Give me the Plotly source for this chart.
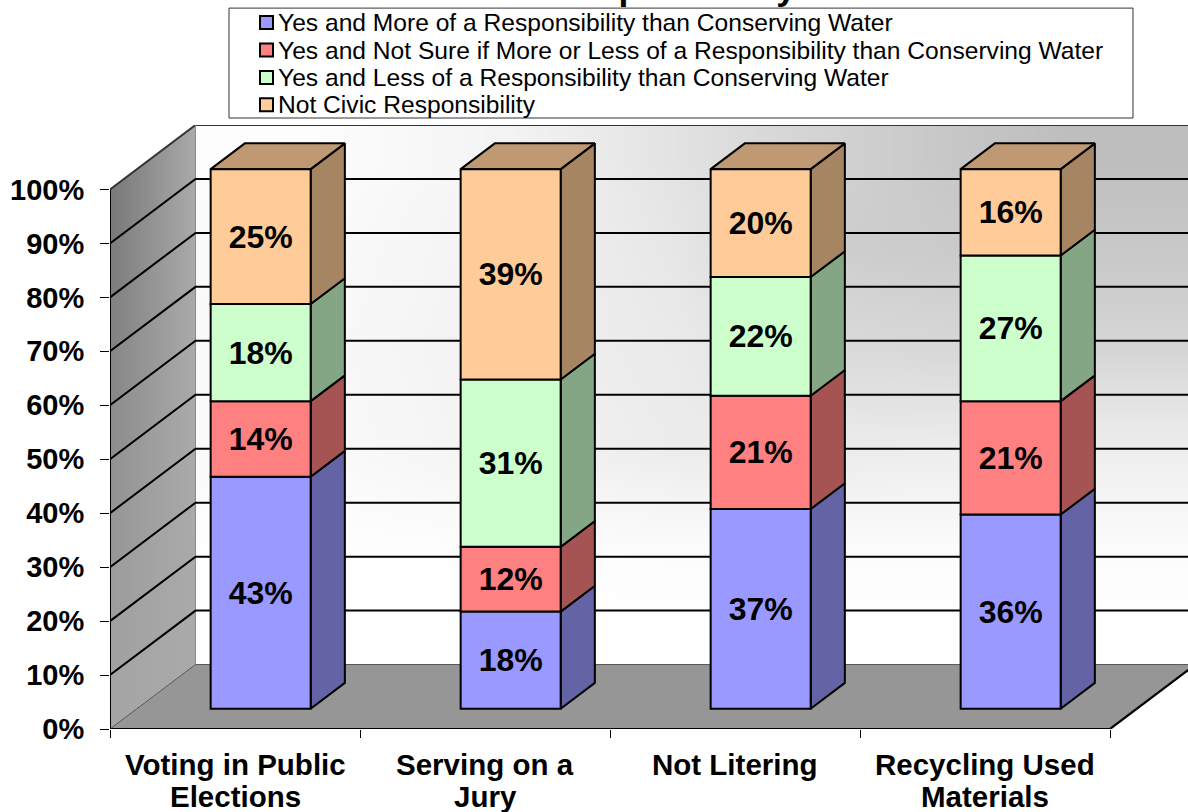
import plotly.graph_objects as go

CATEGORIES = ["Voting in Public Elections", "Serving on a Jury", "Not Litering", "Recycling Used Materials"]
CATEGORY_LINES = [["Voting in Public", "Elections"], ["Serving on a", "Jury"], ["Not Litering"], ["Recycling Used", "Materials"]]
SERIES_NAMES = [
    "Yes and More of a Responsibility than Conserving Water",
    "Yes and Not Sure if More or Less of a Responsibility than Conserving Water",
    "Yes and Less of a Responsibility than Conserving Water",
    "Not Civic Responsibility",
]
MORE = [43, 18, 37, 36]
NOT_SURE = [14, 12, 21, 21]
LESS = [18, 31, 22, 27]
NOT_CIVIC = [25, 39, 20, 16]
SERIES_VALUES = [MORE, NOT_SURE, LESS, NOT_CIVIC]
SERIES_COLORS = [(153, 153, 255), (255, 128, 128), (204, 255, 204), (255, 204, 153)]
TITLE = "Civic Responsibility"

# page geometry
W, H = 1188, 812
L, R, T, B = 110, 0, 125, 82.5
PW, PH = W - L - R, H - T - B
X_UNIT, Y_UNIT = 250.0, 5.40      # px per category, px per percent
X0 = -0.5
DEPTH_X, DEPTH_Y = 85.5 / X_UNIT, 64.5 / Y_UNIT
BAR_WIDTH = 0.4
BAR_FRONT_X = 0.30   # where the bar front sits inside the chart depth
BAR_FRONT_Y = 0.315
BAR_DEPTH = 0.40     # how deep a bar is
XR = [X0, X0 + PW / X_UNIT]
YR = [0, PH / Y_UNIT]
TICKS = list(range(0, 101, 10))
FONT = "Liberation Sans, Arial, sans-serif"


def rgb(c, k=1.0):
    return "rgb(%d,%d,%d)" % tuple(round(v * k) for v in c)


def px_x(x):
    return (x - L) / PW


def px_y(y):
    return (H - B - y) / PH


def unit_x(px):
    return X0 + (px - L) / X_UNIT


def unit_y(py):
    return (H - B - py) / Y_UNIT


fig = go.Figure()

# back wall shading: white at the bottom left, grey at the top right
WALL_EDGES_X = [196, 420, 600, 760, 950, 1188]
WALL_EDGES_Y = [664, 600, 500, 400, 300, 200, 125]
WALL_GREYS = [
    [255, 255, 255, 255, 255],
    [254, 253, 252, 252, 252],
    [250, 242, 236, 236, 238],
    [249, 240, 234, 218, 214],
    [250, 242, 230, 205, 200],
    [253, 243, 226, 208, 190],
]
fig.add_trace(go.Heatmap(
    x=[unit_x(v) for v in WALL_EDGES_X], y=[unit_y(v) for v in WALL_EDGES_Y], z=WALL_GREYS,
    zsmooth="best", zmin=0, zmax=255, showscale=False, hoverinfo="skip",
    colorscale=[[0, "#000000"], [1, "#ffffff"]],
))

# left wall, one gradient band per gridline interval
left_dark = [164, 160, 156, 150, 146, 140, 134, 128, 124, 120]
for i, lo in enumerate(TICKS[:-1]):
    hi = TICKS[i + 1]
    fig.add_trace(go.Scatter(
        x=[X0, X0 + DEPTH_X, X0 + DEPTH_X, X0],
        y=[lo, lo + DEPTH_Y, hi + DEPTH_Y, hi],
        mode="lines", line=dict(width=0), fill="toself", hoverinfo="skip", showlegend=False,
        fillgradient=dict(
            type="horizontal", start=X0, stop=X0 + DEPTH_X,
            colorscale=[[0, rgb((left_dark[i],) * 3)], [1, rgb((170, 170, 170))]],
        ),
    ))

# floor
fig.add_trace(go.Scatter(
    x=[X0, X0 + 4, X0 + 4 + DEPTH_X, X0 + DEPTH_X, X0],
    y=[0, 0, DEPTH_Y, DEPTH_Y, 0],
    mode="none", fill="toself", fillcolor="#969696", hoverinfo="skip", showlegend=False,
))

# floor and wall outlines
outlines = [
    ([X0, X0 + 4, X0 + 4 + DEPTH_X], [0, 0, DEPTH_Y], "#000000", 2.2),
    ([X0, X0 + DEPTH_X, XR[1]], [100, 100 + DEPTH_Y, 100 + DEPTH_Y], "#333333", 2),
    ([X0 + DEPTH_X, X0 + DEPTH_X], [DEPTH_Y, 100 + DEPTH_Y], "#8a8a8a", 1),
    ([X0, X0 + DEPTH_X, XR[1]], [0, DEPTH_Y, DEPTH_Y], "#555555", 1),
    ([X0, X0], [0, 100], "#000000", 2),
]
for xs, ys, col, wd in outlines:
    fig.add_trace(go.Scatter(x=xs, y=ys, mode="lines", line=dict(color=col, width=wd),
                             hoverinfo="skip", showlegend=False, cliponaxis=False))

# gridlines across the left wall and the back wall
grid_x, grid_y = [], []
for t in TICKS[1:-1]:
    grid_x += [X0, X0 + DEPTH_X, XR[1], None]
    grid_y += [t, t + DEPTH_Y, t + DEPTH_Y, None]
fig.add_trace(go.Scatter(x=grid_x, y=grid_y, mode="lines", line=dict(color="#000000", width=2),
                         hoverinfo="skip", showlegend=False, cliponaxis=False))

# bar geometry from the values
centers = [i + BAR_FRONT_X * DEPTH_X for i in range(len(CATEGORIES))]
y_front = BAR_FRONT_Y * DEPTH_Y
dx, dy = BAR_DEPTH * DEPTH_X, BAR_DEPTH * DEPTH_Y

# side faces
cum = [0.0] * len(CATEGORIES)
bases = []
for vals, col, name in zip(SERIES_VALUES, SERIES_COLORS, SERIES_NAMES):
    bases.append([c + y_front for c in cum])
    xs, ys = [], []
    for i, v in enumerate(vals):
        xr = centers[i] + BAR_WIDTH / 2
        b = cum[i] + y_front
        xs += [xr, xr + dx, xr + dx, xr, xr, None]
        ys += [b, b + dy, b + v + dy, b + v, b, None]
        cum[i] += v
    fig.add_trace(go.Scatter(x=xs, y=ys, mode="lines", fill="toself", fillcolor=rgb(col, 0.65),
                             line=dict(color="#000000", width=2), hoverinfo="skip",
                             showlegend=False, name=name + " (side)"))

# top faces
xs, ys = [], []
for i in range(len(CATEGORIES)):
    xl, xr = centers[i] - BAR_WIDTH / 2, centers[i] + BAR_WIDTH / 2
    t = cum[i] + y_front
    xs += [xl, xr, xr + dx, xl + dx, xl, None]
    ys += [t, t, t + dy, t + dy, t, None]
fig.add_trace(go.Scatter(x=xs, y=ys, mode="lines", fill="toself", fillcolor=rgb(SERIES_COLORS[3], 0.75),
                         line=dict(color="#000000", width=2), hoverinfo="skip", showlegend=False))

# front faces, as real bars on the overlaid category axis
for vals, col, name, base in zip(SERIES_VALUES, SERIES_COLORS, SERIES_NAMES, bases):
    fig.add_trace(go.Bar(
        x=CATEGORIES, y=vals, base=base, name=name, xaxis="x2", yaxis="y2",
        width=BAR_WIDTH, offset=BAR_FRONT_X * DEPTH_X - BAR_WIDTH / 2,
        marker=dict(color=rgb(col), line=dict(color="#000000", width=2)),
        text=["%d%%" % v for v in vals], textposition="inside", insidetextanchor="middle",
        textangle=0, constraintext="none",
        textfont=dict(family=FONT, size=32, color="#000000", weight="bold"),
        showlegend=False, hovertemplate="%{x}: %{y}%<extra>" + name + "</extra>",
    ))

# legend box, swatches and labels
LEG_ROWS = [22.5, 50, 77.5, 104.7]
shapes = [dict(type="rect", xref="paper", yref="paper", x0=px_x(229), x1=px_x(1133), y0=px_y(118), y1=px_y(8),
               line=dict(color="#333333", width=1), fillcolor="#ffffff", layer="above")]
annotations = []
for name, col, row in zip(SERIES_NAMES, SERIES_COLORS, LEG_ROWS):
    shapes.append(dict(type="rect", xref="paper", yref="paper", x0=px_x(260), x1=px_x(273),
                       y0=px_y(row + 6.5), y1=px_y(row - 6.5),
                       line=dict(color="#000000", width=2), fillcolor=rgb(col), layer="above"))
    annotations.append(dict(text=name, xref="paper", yref="paper", x=px_x(278), y=px_y(row),
                            xanchor="left", yanchor="middle", showarrow=False, xshift=-2,
                            font=dict(family=FONT, size=24.6, color="#000000")))

# category labels, two tight lines each under the axis
CAT_LINE_Y = [765, 797]
for cat, lines in zip(CATEGORIES, CATEGORY_LINES):
    for line, ypx in zip(lines, CAT_LINE_Y):
        annotations.append(dict(text=line, xref="x2", yref="paper", x=cat, y=px_y(ypx),
                                xanchor="center", yanchor="middle", showarrow=False,
                                font=dict(family=FONT, size=29.5, color="#000000", weight="bold")))

fig.update_layout(
    width=W, height=H, autosize=False,
    margin=dict(l=L, r=R, t=T, b=B, pad=0),
    paper_bgcolor="#ffffff", plot_bgcolor="#ffffff",
    barmode="overlay", showlegend=False,
    font=dict(family=FONT, color="#000000"),
    title=dict(text=TITLE, x=796 / W, xanchor="right", xref="container", yref="container",
               y=1, yanchor="bottom", automargin=False,
               font=dict(family=FONT, size=35.5, color="#000000", weight="bold")),
    xaxis=dict(range=XR, visible=False, fixedrange=True, automargin=False),
    yaxis=dict(range=YR, tickvals=TICKS, ticktext=["%d%%" % t for t in TICKS],
               ticks="outside", ticklen=9, tickwidth=1, tickcolor="#000000",
               showline=False, showgrid=False, zeroline=False, fixedrange=True, automargin=False,
               ticklabelstandoff=10,
               tickfont=dict(family=FONT, size=29, color="#000000", weight="bold")),
    xaxis2=dict(overlaying="x", anchor="y2", side="bottom", type="category",
                categoryorder="array", categoryarray=CATEGORIES, range=XR,
                tickson="boundaries", ticks="outside", ticklen=8, tickwidth=1, tickcolor="#000000",
                showgrid=False, zeroline=False, showline=False, fixedrange=True, automargin=False,
                showticklabels=False),
    yaxis2=dict(overlaying="y", range=YR, visible=False, fixedrange=True, automargin=False),
    shapes=shapes, annotations=annotations,
)

fig.write_html("out.html", config={"displayModeBar": False},
               post_script="document.body.style.margin='0';")
